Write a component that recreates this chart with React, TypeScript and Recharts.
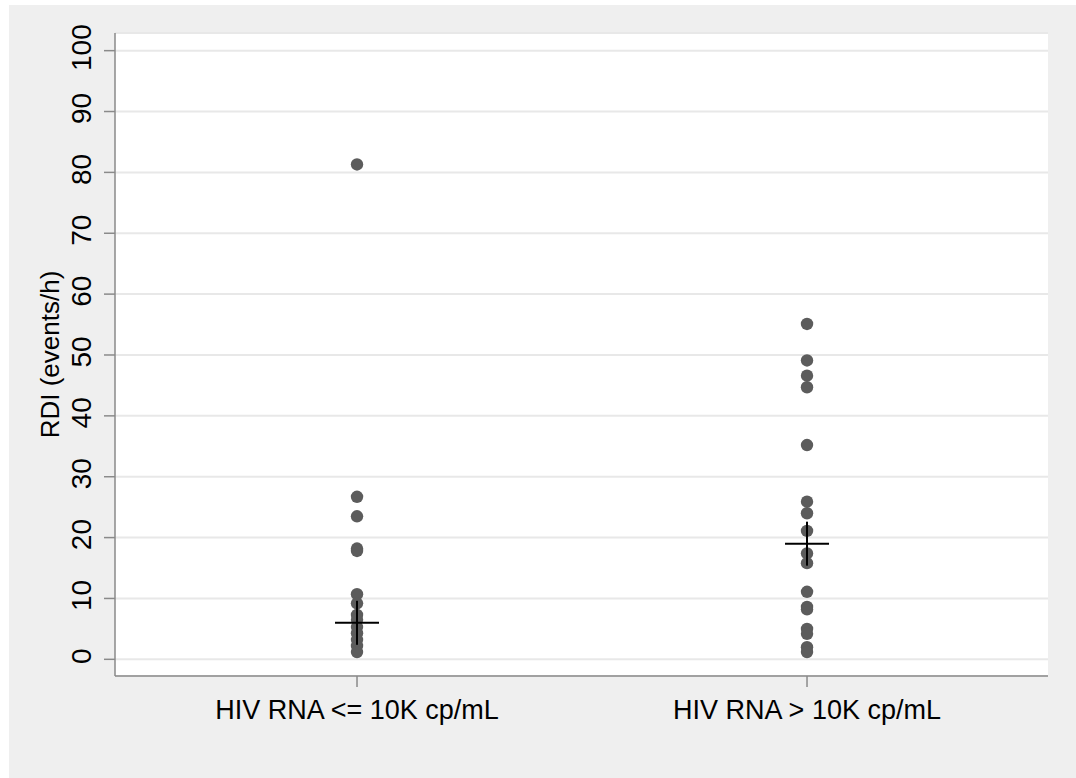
import { ScatterChart, Scatter, XAxis, YAxis, CartesianGrid, Label } from "recharts";

const categories = ["HIV RNA <= 10K cp/mL", "HIV RNA > 10K cp/mL"];
const lowLoadRdi = [81.3, 26.7, 23.5, 18.2, 17.8, 10.7, 9.2, 7.3, 6.5, 5.3, 4.3, 3.2, 2.2, 1.2];
const highLoadRdi = [55.1, 49.1, 46.6, 44.7, 35.2, 25.9, 24.0, 21.1, 17.4, 15.8, 11.1, 8.6, 8.2, 5.0, 4.2, 2.0, 1.2];
const medianRdi = [6.0, 19.0];
const yTicks = [0, 10, 20, 30, 40, 50, 60, 70, 80, 90, 100];

const pointData = [
  ...lowLoadRdi.map((v) => ({ x: 1, y: v })),
  ...highLoadRdi.map((v) => ({ x: 2, y: v })),
];
const medianData = medianRdi.map((v, i) => ({ x: i + 1, y: v }));

const axisColor = "#8a8a8a";

function YTick({ x, y, payload }: any) {
  return (
    <text
      transform={`translate(${x - 11},${y - 3}) rotate(-90)`}
      textAnchor="middle"
      fontSize={28}
      fontFamily="'Liberation Sans Narrow', 'Arial Narrow', 'Liberation Sans', sans-serif"
      fill="#000"
    >
      {payload.value}
    </text>
  );
}

function XTick({ x, y, payload }: any) {
  return (
    <text x={x} y={y + 30} textAnchor="middle" fontSize={27} fontFamily="'Liberation Sans', Arial, sans-serif" fill="#000">
      {categories[payload.value - 1]}
    </text>
  );
}

function Cross({ cx, cy }: any) {
  const h = 22;
  return (
    <g>
      <line x1={cx - h} x2={cx + h} y1={cy} y2={cy} stroke="#000" strokeWidth={2} />
      <line x1={cx} x2={cx} y1={cy - h} y2={cy + h} stroke="#000" strokeWidth={2} />
    </g>
  );
}

export default function App() {
  return (
    <div
      style={{
        position: "absolute",
        left: 9,
        top: 5,
        width: 1067,
        height: 773,
        background: "#efefef",
      }}
    >
      <ScatterChart width={1067} height={773} margin={{ top: 28, right: 28, left: 0, bottom: 0 }}>
        <CartesianGrid horizontal vertical={false} fill="#ffffff" stroke="#e8e8e8" strokeWidth={2} />
        <XAxis
          type="number"
          dataKey="x"
          domain={[0.4622, 2.5355]}
          ticks={[1, 2]}
          allowDataOverflow
          height={102}
          stroke={axisColor}
          strokeWidth={1.5}
          tickSize={11}
          tick={<XTick />}
        />
        <YAxis
          type="number"
          dataKey="y"
          domain={[-2.74, 102.9]}
          ticks={yTicks}
          allowDataOverflow
          width={106}
          stroke={axisColor}
          strokeWidth={1.5}
          tickSize={11}
          tick={<YTick />}
        >
          <Label
            value="RDI (events/h)"
            angle={-90}
            position="insideLeft"
            offset={41}
            style={{ fontSize: 26, fontFamily: "'Liberation Sans', Arial, sans-serif", fill: "#000", textAnchor: "middle" }}
          />
        </YAxis>
        <Scatter data={pointData} fill="#5c5c5c" isAnimationActive={false} shape={(p: any) => <circle cx={p.cx} cy={p.cy} r={6.2} fill="#5c5c5c" />} />
        <Scatter data={medianData} isAnimationActive={false} shape={<Cross />} />
      </ScatterChart>
    </div>
  );
}
